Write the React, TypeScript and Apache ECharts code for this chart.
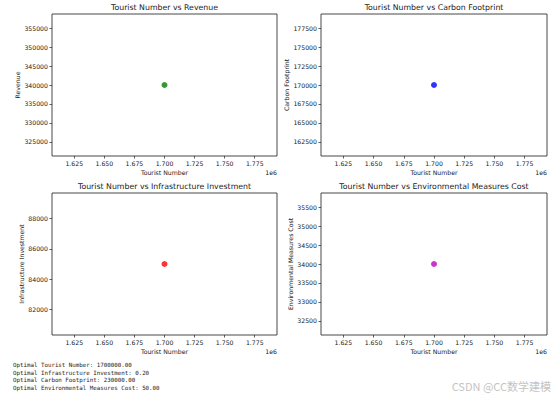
import React, { useEffect, useRef } from "react";
import * as echarts from "echarts";

const touristNumber = [1700000];
const revenue = [340000];
const carbonFootprint = [170000];
const infrastructureInvestment = [85000];
const environmentalCost = [34000];

const xTicks = [1625000, 1650000, 1675000, 1700000, 1725000, 1750000, 1775000];
const revenueTicks = [325000, 330000, 335000, 340000, 345000, 350000, 355000];
const carbonTicks = [162500, 165000, 167500, 170000, 172500, 175000, 177500];
const infraTicks = [82000, 84000, 86000, 88000];
const envTicks = [32500, 33000, 33500, 34000, 34500, 35000, 35500];

const titles = [
  "Tourist Number vs Revenue",
  "Tourist Number vs Carbon Footprint",
  "Tourist Number vs Infrastructure Investment",
  "Tourist Number vs Environmental Measures Cost",
];
const yNames = ["Revenue", "Carbon Footprint", "Infrastructure Investment", "Environmental Measures Cost"];
const colors = ["#008000", "#0000ff", "#ff0000", "#bf00bf"];

const optimalLines = [
  "Optimal Tourist Number: 1700000.00",
  "Optimal Infrastructure Investment: 0.20",
  "Optimal Carbon Footprint: 230000.00",
  "Optimal Environmental Measures Cost: 50.00",
];
const watermark = "CSDN @CC数学建模";

// matplotlib-like range for a single value: nonsingular expansion then 5% margins
function mplRange(vals: number[]) {
  let lo = Math.min(...vals);
  let hi = Math.max(...vals);
  if (lo === hi) {
    lo -= 0.05 * Math.abs(lo);
    hi += 0.05 * Math.abs(hi);
  }
  const m = (hi - lo) * 0.05;
  return [lo - m, hi + m];
}

const grids = [
  { left: 52, top: 14, width: 225, height: 142 },
  { left: 321, top: 14, width: 226, height: 142 },
  { left: 52, top: 193, width: 225, height: 142 },
  { left: 321, top: 193, width: 226, height: 142 },
];
const yNameGaps = [31, 30, 27, 27];

const FONT = "DejaVu Sans";
const TXT = "#1a1a1a";
const SPINE = "#333333";

export default function App() {
  const ref = useRef<HTMLDivElement>(null);
  useEffect(() => {
    document.body.style.margin = "0";
    if (!ref.current) return;
    const chart = echarts.init(ref.current, undefined, { renderer: "svg" });
    const ySeries = [revenue, carbonFootprint, infrastructureInvestment, environmentalCost];
    const yTickSets = [revenueTicks, carbonTicks, infraTicks, envTicks];
    const [xmin, xmax] = mplRange(touristNumber);

    const option: any = {
      animation: false,
      backgroundColor: "#ffffff",
      title: grids.map((g, i) => ({
        text: titles[i],
        left: g.left + g.width / 2,
        top: g.top - 11,
        padding: 0,
        textAlign: "center",
        textStyle: { fontFamily: FONT, fontSize: 7.8, fontWeight: "normal", color: TXT },
      })),
      grid: grids.map((g) => ({
        ...g,
        show: true,
        borderColor: SPINE,
        borderWidth: 0.9,
        backgroundColor: "transparent",
        containLabel: false,
      })),
      xAxis: grids.map((g, i) => ({
        type: "value",
        gridIndex: i,
        min: xmin,
        max: xmax,
        name: "Tourist Number",
        nameLocation: "middle",
        nameGap: 13,
        nameTextStyle: { fontFamily: FONT, fontSize: 6.2, color: TXT },
        axisLine: { show: false },
        splitLine: { show: false },
        axisTick: {
          show: true,
          length: 2.5,
          customValues: xTicks,
          lineStyle: { color: SPINE, width: 0.8 },
        },
        axisLabel: {
          show: true,
          customValues: xTicks,
          margin: 4,
          fontFamily: FONT,
          fontSize: 6.2,
          color: TXT,
          formatter: (v: number) => (v / 1e6).toFixed(3),
        },
      })),
      yAxis: grids.map((g, i) => {
        const [ymin, ymax] = mplRange(ySeries[i]);
        return {
          type: "value",
          gridIndex: i,
          min: ymin,
          max: ymax,
          name: yNames[i],
          nameLocation: "middle",
          nameGap: yNameGaps[i],
          nameRotate: 90,
          nameTextStyle: { fontFamily: FONT, fontSize: 6.2, color: TXT },
          axisLine: { show: false },
          splitLine: { show: false },
          axisTick: {
            show: true,
            length: 2.5,
            customValues: yTickSets[i],
            lineStyle: { color: SPINE, width: 0.8 },
          },
          axisLabel: {
            show: true,
            customValues: yTickSets[i],
            margin: 4,
            fontFamily: FONT,
            fontSize: 6.2,
            color: TXT,
            formatter: (v: number) => String(Math.round(v)),
          },
        };
      }),
      series: grids.map((g, i) => ({
        type: "scatter",
        xAxisIndex: i,
        yAxisIndex: i,
        symbolSize: 6,
        itemStyle: { color: colors[i] },
        data: touristNumber.map((x, k) => [x, ySeries[i][k]]),
      })),
      graphic: [
        ...grids.map((g) => ({
          type: "text",
          x: g.left + g.width,
          y: g.top + g.height + 16,
          style: {
            text: "1e6",
            fontFamily: FONT,
            fontSize: 6.2,
            fill: TXT,
            align: "right",
            verticalAlign: "middle",
          },
        })),
        ...optimalLines.map((t, i) => ({
          type: "text",
          x: 13,
          y: 365 + i * 7.6,
          style: {
            text: t,
            fontFamily: "DejaVu Sans Mono",
            fontSize: 5.8,
            fill: TXT,
            align: "left",
            verticalAlign: "middle",
          },
        })),
        {
          type: "text",
          x: 551,
          y: 386,
          style: {
            text: watermark,
            fontFamily: "Noto Sans CJK SC",
            fontSize: 11,
            fill: "#c4c4c4",
            align: "right",
            verticalAlign: "middle",
          },
        },
      ],
    };
    chart.setOption(option);
    return () => chart.dispose();
  }, []);
  return <div ref={ref} style={{ width: 554, height: 397 }} />;
}
